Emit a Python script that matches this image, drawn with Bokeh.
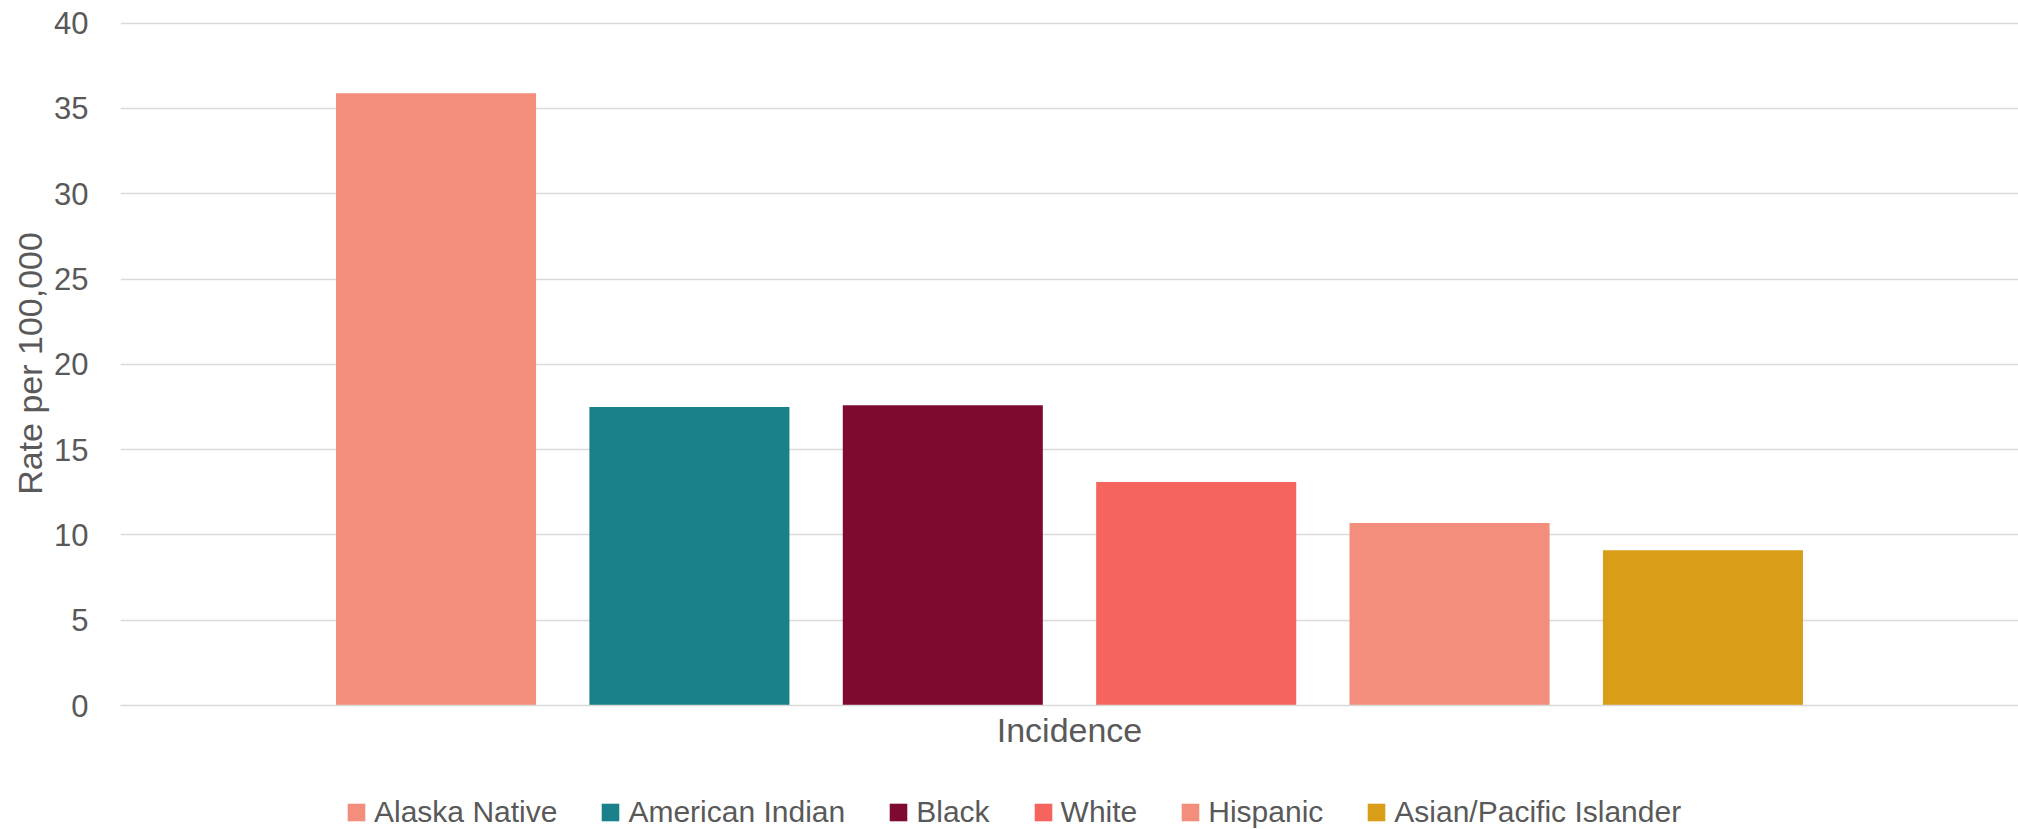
from bokeh.plotting import figure
from bokeh.layouts import column
from bokeh.models import (FactorRange, Range1d, Legend, LegendItem, FixedTicker,
                          ColumnDataSource)
from bokeh.transform import dodge
from bokeh.embed import file_html
from bokeh.resources import INLINE

# ---- data ----
category = ["Incidence"]
series = ["Alaska Native", "American Indian", "Black", "White", "Hispanic",
          "Asian/Pacific Islander"]
rates = [35.9, 17.5, 17.6, 13.1, 10.7, 9.1]
colors = ["#F28E7B", "#1A808A", "#7F0A30", "#F5645D", "#F28E7B", "#D99D18"]
y_ticks = [0, 5, 10, 15, 20, 25, 30, 35, 40]
y_title = "Rate per 100,000"

FONT = "Liberation Sans"
TEXT = "#595959"
GRID = "#D9D9D9"

W = 2018
H_CHART = 770
H_LEG = 59

p = figure(width=W, height=H_CHART,
           x_range=FactorRange(factors=category, range_padding=0),
           y_range=Range1d(0, 40.1),
           output_backend="svg", toolbar_location=None,
           min_border_left=120, min_border_right=0,
           min_border_top=21, min_border_bottom=65)
p.outline_line_color = None

# legend strip below the chart (holds the legend only)
p2 = figure(width=W, height=H_LEG, x_range=p.x_range, y_range=Range1d(100, 101),
            output_backend="svg", toolbar_location=None,
            x_axis_location=None, y_axis_location=None,
            min_border=0)
p2.outline_line_color = None
p2.xgrid.visible = False
p2.ygrid.visible = False

n = len(series)
pitch = 0.1335
bar_w = 0.1054
items = []
for i, (name, val, col) in enumerate(zip(series, rates, colors)):
    src = ColumnDataSource(dict(x=category, top=[val]))
    xs = dodge("x", (i - (n - 1) / 2) * pitch, range=p.x_range)
    p.vbar(x=xs, top="top", bottom=0, width=bar_w, source=src,
           fill_color=col, line_color=None)
    # same bars in the legend strip (outside its visible range) to key the legend
    r2 = p2.vbar(x=xs, top="top", bottom=0, width=bar_w, source=src,
                 fill_color=col, line_color=None)
    items.append(LegendItem(label=name, renderers=[r2]))

# y axis
p.yaxis.ticker = FixedTicker(ticks=y_ticks)
p.yaxis.axis_line_color = None
p.yaxis.major_tick_line_color = None
p.yaxis.minor_tick_line_color = None
p.yaxis.major_tick_out = 0
p.yaxis.major_tick_in = 0
p.yaxis.major_label_standoff = 32
p.yaxis.major_label_text_font = FONT
p.yaxis.major_label_text_font_size = "31px"
p.yaxis.major_label_text_color = TEXT
p.yaxis.axis_label = y_title
p.yaxis.axis_label_text_font = FONT
p.yaxis.axis_label_text_font_size = "34px"
p.yaxis.axis_label_text_font_style = "normal"
p.yaxis.axis_label_text_color = TEXT
p.yaxis.axis_label_standoff = 2

p.ygrid.ticker = p.yaxis.ticker
p.ygrid.grid_line_color = GRID
p.ygrid.grid_line_width = 1.5
p.xgrid.grid_line_color = None

# x axis
p.xaxis.axis_line_color = GRID
p.xaxis.axis_line_width = 1.5
p.xaxis.major_tick_line_color = None
p.xaxis.minor_tick_line_color = None
p.xaxis.major_tick_out = 0
p.xaxis.major_tick_in = 0
p.xaxis.major_label_standoff = 5
p.xaxis.major_label_text_font = FONT
p.xaxis.major_label_text_font_size = "34px"
p.xaxis.major_label_text_color = TEXT

legend = Legend(items=items, orientation="horizontal", location=(225, 0),
                margin=0, padding=0, spacing=42,
                glyph_width=22, glyph_height=22, label_standoff=7,
                label_text_font=FONT, label_text_font_size="30px",
                label_text_color=TEXT, border_line_color=None,
                background_fill_alpha=0)
p2.add_layout(legend)

layout = column(p, p2, spacing=0)
open("out.html", "w").write(file_html(layout, INLINE))
